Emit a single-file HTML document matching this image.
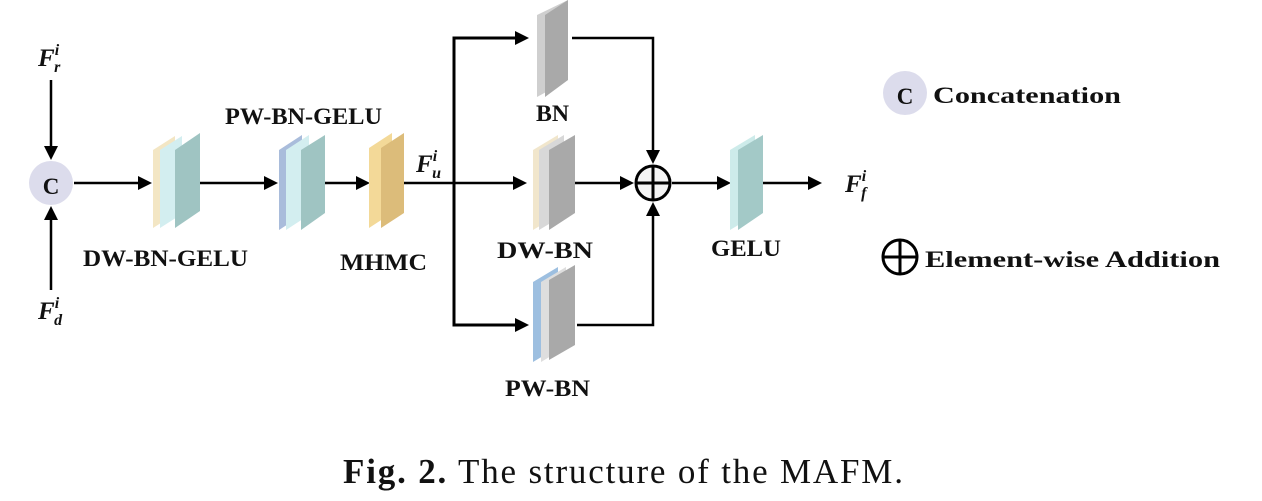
<!DOCTYPE html>
<html><head><meta charset="utf-8"><style>
html,body{margin:0;padding:0;background:#fff;}
svg{display:block;}
.l{font-family:"Liberation Serif",serif;font-weight:bold;font-size:23px;fill:#111;}
.m{font-family:"Liberation Serif",serif;font-weight:bold;font-style:italic;fill:#111;}
</style></head><body>
<svg width="1262" height="501" viewBox="0 0 1262 501" xmlns="http://www.w3.org/2000/svg">
<g stroke="#000" stroke-width="2.5" fill="none">
<line x1="51" y1="80" x2="51" y2="148"/>
<line x1="51" y1="290" x2="51" y2="218"/>
<line x1="74" y1="183" x2="140" y2="183"/>
<line x1="200" y1="183" x2="266" y2="183"/>
<line x1="325" y1="183" x2="358" y2="183"/>
<line x1="403" y1="183" x2="515" y2="183"/>
<polyline points="515,38 454,38 454,325 515,325" stroke-width="3"/>
<line x1="575" y1="183" x2="622" y2="183"/>
<polyline points="572,38 653,38 653,150"/>
<polyline points="577,325 653,325 653,215"/>
<line x1="672" y1="183" x2="720" y2="183"/>
<line x1="763" y1="183" x2="810" y2="183"/>
</g>
<g fill="#000">
<polygon points="44,146 58,146 51,160"/>
<polygon points="44,220 58,220 51,206"/>
<polygon points="138,176 138,190 152,183"/>
<polygon points="264,176 264,190 278,183"/>
<polygon points="356,176 356,190 370,183"/>
<polygon points="515,31 515,45 529,38"/>
<polygon points="513,176 513,190 527,183"/>
<polygon points="515,318 515,332 529,325"/>
<polygon points="620,176 620,190 634,183"/>
<polygon points="646,150 660,150 653,164"/>
<polygon points="646,216 660,216 653,202"/>
<polygon points="717,176 717,190 731,183"/>
<polygon points="808,176 808,190 822,183"/>
</g>
<circle cx="51" cy="183" r="22" fill="#dcdcec"/>
<text x="51" y="194" text-anchor="middle" class="l" font-size="30">C</text>
<polygon points="153,228 153,150 175,136 175,214" fill="#f3e6c4"/>
<polygon points="160,228 160,150 182,136 182,214" fill="#d3eef0"/>
<polygon points="175,228 175,150 200,133 200,211" fill="#9fc4c2"/>
<polygon points="279,230 279,150 302,135 302,215" fill="#a9bcdb"/>
<polygon points="286,230 286,150 309,135 309,215" fill="#d3eef0"/>
<polygon points="301,230 301,150 325,135 325,213" fill="#9fc4c2"/>
<polygon points="369,228 369,148 392,133 392,213" fill="#f3d998"/>
<polygon points="381,228 381,148 404,133 404,213" fill="#dcbc7a"/>
<polygon points="537,97 537,15 568,0 568,80" fill="#cfcfcf"/>
<polygon points="545,97 545,15 568,0 568,80" fill="#a9a9a9"/>
<polygon points="533,230 533,150 558,135 558,215" fill="#f1e6cc"/>
<polygon points="539,230 539,150 564,135 564,215" fill="#d8d8d8"/>
<polygon points="549,230 549,150 575,135 575,213" fill="#a9a9a9"/>
<polygon points="533,362 533,282 558,267 558,347" fill="#9dbfe0"/>
<polygon points="541,362 541,282 566,267 566,347" fill="#dedede"/>
<polygon points="549,360 549,280 575,265 575,345" fill="#a9a9a9"/>
<polygon points="730,230 730,150 755,135 755,215" fill="#cdebea"/>
<polygon points="738,230 738,150 763,135 763,213" fill="#a3c9c7"/>
<circle cx="653" cy="183" r="17" fill="#f4f4f4" stroke="#000" stroke-width="3"/>
<line x1="636" y1="183" x2="670" y2="183" stroke="#000" stroke-width="3"/>
<line x1="653" y1="166" x2="653" y2="200" stroke="#000" stroke-width="3"/>
<text class="l" x="225" y="124" textLength="157" lengthAdjust="spacingAndGlyphs">PW-BN-GELU</text>
<text class="l" x="83" y="266" textLength="165" lengthAdjust="spacingAndGlyphs">DW-BN-GELU</text>
<text class="l" x="340" y="270" textLength="87" lengthAdjust="spacingAndGlyphs">MHMC</text>
<text class="l" x="536" y="121" textLength="33" lengthAdjust="spacingAndGlyphs">BN</text>
<text class="l" x="497" y="258" textLength="96" lengthAdjust="spacingAndGlyphs">DW-BN</text>
<text class="l" x="711" y="256" textLength="70" lengthAdjust="spacingAndGlyphs">GELU</text>
<text class="l" x="505" y="396" textLength="85" lengthAdjust="spacingAndGlyphs">PW-BN</text>
<text class="m" x="38" y="66" font-size="25">F<tspan font-size="16" dy="-11">i</tspan><tspan font-size="16" dx="-5" dy="17">r</tspan></text>
<text class="m" x="38" y="319" font-size="25">F<tspan font-size="16" dy="-11">i</tspan><tspan font-size="16" dx="-5" dy="17">d</tspan></text>
<text class="m" x="416" y="172" font-size="25">F<tspan font-size="16" dy="-11">i</tspan><tspan font-size="16" dx="-5" dy="17">u</tspan></text>
<text class="m" x="845" y="192" font-size="25">F<tspan font-size="16" dy="-11">i</tspan><tspan font-size="16" dx="-5" dy="17">f</tspan></text>
<circle cx="905" cy="93" r="22" fill="#dcdcec"/>
<text x="905" y="104" text-anchor="middle" class="l" font-size="30">C</text>
<text class="l" x="933" y="103" font-size="27" textLength="188" lengthAdjust="spacingAndGlyphs">Concatenation</text>
<circle cx="900" cy="257" r="17" fill="none" stroke="#000" stroke-width="3"/>
<line x1="883" y1="257" x2="917" y2="257" stroke="#000" stroke-width="3"/>
<line x1="900" y1="240" x2="900" y2="274" stroke="#000" stroke-width="3"/>
<text class="l" x="925" y="267" font-size="27" textLength="295" lengthAdjust="spacingAndGlyphs">Element-wise Addition</text>
<text x="343" y="483" font-family="Liberation Serif, serif" font-size="35" fill="#111" textLength="560" lengthAdjust="spacing"><tspan font-weight="bold">Fig. 2.</tspan>  The structure of the MAFM.</text>
</svg>
</body></html>
